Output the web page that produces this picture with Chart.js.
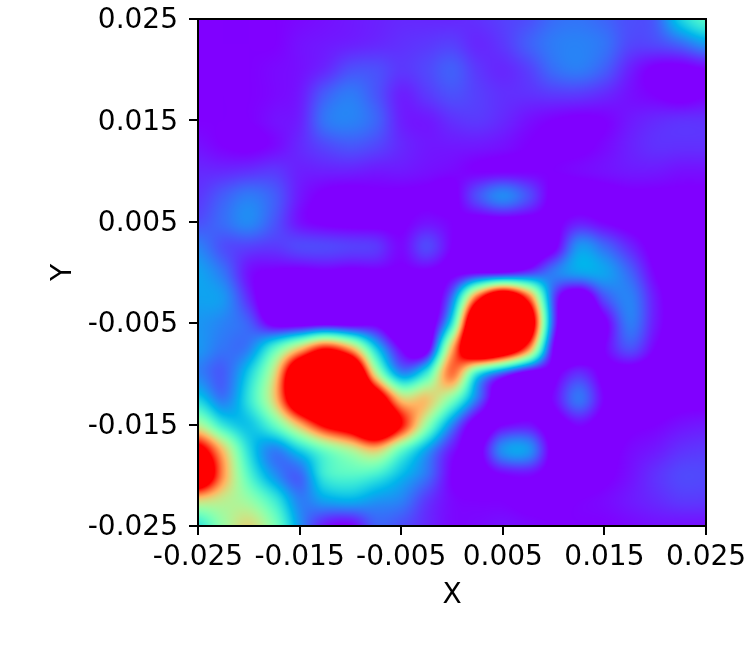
<!DOCTYPE html>
<html>
<head>
<meta charset="utf-8">
<title>Heatmap</title>
<script src="https://cdn.jsdelivr.net/npm/chart.js@4/dist/chart.umd.min.js"></script>
<style>
  html, body { margin: 0; background: #fff; }
  canvas { display: block; }
</style>
</head>
<body>
<canvas id="heatChart" width="748" height="648"></canvas>
<script>
// Values, 0 = purple, 1 = red (both ends saturate)
const xValues = [-0.025, -0.0225, -0.02, -0.0175, -0.015, -0.0125, -0.01, -0.0075, -0.005, -0.0025, 0,
    0.0025, 0.005, 0.0075, 0.01, 0.0125, 0.015, 0.0175, 0.02, 0.0225, 0.025];
const yValues = [0.025, 0.0225, 0.02, 0.0175, 0.015, 0.0125, 0.01, 0.0075, 0.005, 0.0025, 0,
    -0.0025, -0.005, -0.0075, -0.01, -0.0125, -0.015, -0.0175, -0.02, -0.0225, -0.025];
const tickValues = [-0.025, -0.015, -0.005, 0.005, 0.015, 0.025];
const zRows = [
    [0, 0, 0, 0, 0.01, 0.02, 0.03, 0.04, 0.05, 0.05, 0.05, 0.06, 0.08, 0.1, 0.14, 0.15, 0.13, 0.1, 0.12, 0.3, 0.42],
    [0, 0, 0, 0, 0.02, 0.03, 0.04, 0.05, 0.06, 0.07, 0.08, 0.05, 0.07, 0.12, 0.16, 0.17, 0.15, 0.09, 0.09, 0.13, 0.2],
    [0, 0, 0, 0.01, 0.02, 0.05, 0.1, 0.1, 0.07, 0.09, 0.12, 0.07, 0.05, 0.08, 0.14, 0.16, 0.12, 0.04, -0.01, -0.02, 0],
    [0, 0, 0, 0.01, 0.03, 0.12, 0.16, 0.11, 0.04, 0.07, 0.1, 0.08, 0.06, 0.06, 0.07, 0.07, 0.05, 0.02, 0, -0.02, 0],
    [0, 0, 0, 0.02, 0.04, 0.15, 0.17, 0.13, 0.04, 0.03, 0.06, 0.07, 0.05, 0.02, 0, -0.01, 0, 0.03, 0.05, 0.06, 0.06],
    [0.02, 0, -0.01, 0.01, 0.05, 0.09, 0.11, 0.09, 0.05, 0.03, 0.03, 0.03, 0.02, 0, -0.01, -0.01, 0.01, 0.04, 0.06, 0.06, 0.06],
    [0.05, 0.05, 0.06, 0.07, 0.04, 0.04, 0.04, 0.03, 0.03, 0.02, 0.01, 0, 0, 0, 0, 0.01, 0.02, 0.03, 0.03, 0.02, 0.02],
    [0.07, 0.12, 0.16, 0.12, 0.03, -0.01, -0.02, -0.01, -0.01, -0.01, -0.02, 0.1, 0.18, 0.1, -0.02, -0.03, -0.02, -0.01, -0.01, -0.01, -0.01],
    [0.1, 0.14, 0.18, 0.11, 0.02, -0.01, -0.02, -0.02, -0.01, 0.02, 0, -0.03, -0.03, -0.03, -0.02, 0.03, 0, -0.02, -0.02, -0.02, -0.02],
    [0.17, 0.1, 0.08, 0.07, 0.09, 0.09, 0.08, 0.07, 0.01, 0.09, 0, -0.06, -0.08, -0.08, -0.02, 0.2, 0.14, 0.05, -0.02, -0.03, -0.03],
    [0.22, 0.15, 0.02, -0.01, -0.02, -0.01, -0.02, -0.01, -0.01, -0.01, -0.02, 0, 0.01, 0.07, 0.16, 0.22, 0.22, 0.13, 0, -0.03, -0.03],
    [0.22, 0.2, 0.05, -0.1, -0.15, -0.15, -0.15, -0.12, -0.05, -0.08, 0.15, 0.9, 1.3, 0.9, 0.1, -0.1, 0.1, 0.17, 0.03, -0.04, -0.04],
    [0.2, 0.17, 0.12, -0.03, -0.05, -0.03, -0.04, -0.02, -0.12, -0.1, 0.35, 1.45, 1.6, 1.25, 0.1, -0.15, -0.02, 0.16, 0.03, -0.04, -0.05],
    [0.2, 0.15, 0.17, 0.42, 0.72, 0.98, 0.78, 0.3, 0, -0.05, 0.75, 1.4, 1.3, 0.85, 0, -0.1, 0, 0.1, 0, -0.05, -0.05],
    [0.17, 0.12, 0.3, 0.66, 1.35, 1.6, 1.5, 0.65, 0.2, 0.38, 0.85, 0.35, 0.1, -0.05, -0.02, 0.06, -0.02, -0.04, -0.05, -0.05, -0.05],
    [0.3, 0.16, 0.35, 0.7, 1.3, 1.6, 1.6, 1.25, 0.72, 0.72, 0.5, 0.15, -0.1, -0.06, 0.01, 0.15, 0, -0.03, -0.03, -0.02, -0.02],
    [0.6, 0.35, 0.28, 0.45, 0.75, 1.05, 1.2, 1.4, 1, 0.55, 0.18, -0.05, 0, 0.02, -0.04, 0.01, -0.03, -0.01, 0, 0.02, 0.03],
    [1.1, 0.72, 0.33, 0.17, 0.3, 0.47, 0.6, 0.72, 0.45, 0.22, 0.03, -0.03, 0.19, 0.2, -0.03, -0.04, -0.02, 0.01, 0.03, 0.06, 0.07],
    [1.3, 0.8, 0.42, 0.2, 0.13, 0.37, 0.42, 0.38, 0.26, 0.15, 0, -0.03, 0, 0.01, -0.03, -0.03, -0.01, 0.02, 0.06, 0.09, 0.09],
    [0.68, 0.62, 0.55, 0.38, 0.17, 0.22, 0.24, 0.2, 0.17, 0.07, 0.01, 0, 0, -0.01, -0.01, 0, 0.01, 0.03, 0.05, 0.07, 0.07],
    [0.35, 0.55, 0.68, 0.5, 0.2, 0.03, 0, 0.12, 0.1, 0.05, 0.01, 0.01, 0.02, 0.01, 0, 0, 0, 0.01, 0.02, 0.02, 0.02]
];

// matplotlib "rainbow"
function rainbow(v) {
    const t = Math.min(1, Math.max(0, v));
    return [
        Math.min(1, Math.abs(2 * t - 0.5)) * 255,
        Math.sin(Math.PI * t) * 255,
        Math.cos(Math.PI * t / 2) * 255
    ];
}

const cells = [];
yValues.forEach((y, j) => xValues.forEach((x, i) => cells.push({ x: x, y: y, v: zRows[j][i] })));

function cubic(a, b, c, d, t) {
    return b + 0.5 * t * (c - a + t * (2 * a - 5 * b + 4 * c - d + t * (3 * (b - c) + d - a)));
}

function sampleGrid(gx, gy) {
    const ny = zRows.length, nx = zRows[0].length;
    const ix = Math.min(nx - 2, Math.max(0, Math.floor(gx)));
    const iy = Math.min(ny - 2, Math.max(0, Math.floor(gy)));
    const col = [];
    for (let m = -1; m <= 2; m++) {
        const row = zRows[Math.min(ny - 1, Math.max(0, iy + m))];
        col.push(cubic(
            row[Math.max(0, ix - 1)], row[ix], row[ix + 1], row[Math.min(nx - 1, ix + 2)], gx - ix));
    }
    return cubic(col[0], col[1], col[2], col[3], gy - iy);
}

// repaints the chart area by interpolating the cell values through the scales
const smoothCells = {
    id: 'smoothCells',
    afterDatasetsDraw(chart) {
        const area = chart.chartArea;
        const sx = chart.scales.x, sy = chart.scales.y;
        const left = Math.round(area.left), top = Math.round(area.top);
        const w = Math.round(area.right) - left, h = Math.round(area.bottom) - top;
        const img = chart.ctx.createImageData(w, h);
        const dx = xValues[1] - xValues[0], dy = yValues[0] - yValues[1];
        for (let py = 0; py < h; py++) {
            const gy = (yValues[0] - sy.getValueForPixel(top + py + 0.5)) / dy;
            for (let px = 0; px < w; px++) {
                const gx = (sx.getValueForPixel(left + px + 0.5) - xValues[0]) / dx;
                const c = rainbow(sampleGrid(gx, gy));
                const k = (py * w + px) * 4;
                img.data[k] = c[0];
                img.data[k + 1] = c[1];
                img.data[k + 2] = c[2];
                img.data[k + 3] = 255;
            }
        }
        chart.ctx.putImageData(img, left, top);
    },
    afterDraw(chart) {
        const a = chart.chartArea, ctx = chart.ctx;
        ctx.save();
        ctx.strokeStyle = '#000';
        ctx.lineWidth = 2;
        ctx.strokeRect(a.left, a.top, a.right - a.left, a.bottom - a.top);
        ctx.restore();
    }
};

const tickFont = { family: '"DejaVu Sans"', size: 28 };

function axis(title, width, height, pad, labelOffset) {
    return {
        type: 'linear',
        min: -0.025,
        max: 0.025,
        afterBuildTicks(scale) {
            scale.ticks = tickValues.map(v => ({ value: v }));
        },
        afterFit(scale) {
            if (width) scale.width = width;
            if (height) scale.height = height;
            scale.paddingLeft = scale.paddingRight = scale.paddingTop = scale.paddingBottom = 0;
        },
        grid: { drawOnChartArea: false, color: '#000', lineWidth: 2, tickLength: 9 },
        border: { color: '#000', width: 2 },
        ticks: {
            autoSkip: false,
            maxRotation: 0,
            minRotation: 0,
            padding: pad,
            labelOffset: labelOffset,
            color: '#000',
            font: tickFont,
            callback: v => v.toFixed(3)
        },
        title: { display: true, text: title, color: '#000', font: tickFont, padding: 4 }
    };
}

new Chart(document.getElementById('heatChart').getContext('2d'), {
    type: 'scatter',
    data: {
        datasets: [{
            data: cells,
            pointStyle: 'rect',
            pointRadius: 19,
            borderWidth: 0,
            backgroundColor: ctx => {
                const c = rainbow(ctx.raw.v);
                return `rgb(${c[0]}, ${c[1]}, ${c[2]})`;
            }
        }]
    },
    options: {
        responsive: false,
        animation: false,
        events: [],
        layout: { padding: { left: 43, top: 18, right: 42, bottom: 31 } },
        plugins: { legend: { display: false }, tooltip: { enabled: false } },
        scales: {
            x: axis('X', 0, 91, 6, 0),
            y: axis('Y', 155, 0, 11, 2)
        }
    },
    plugins: [smoothCells]
});
</script>
</body>
</html>
